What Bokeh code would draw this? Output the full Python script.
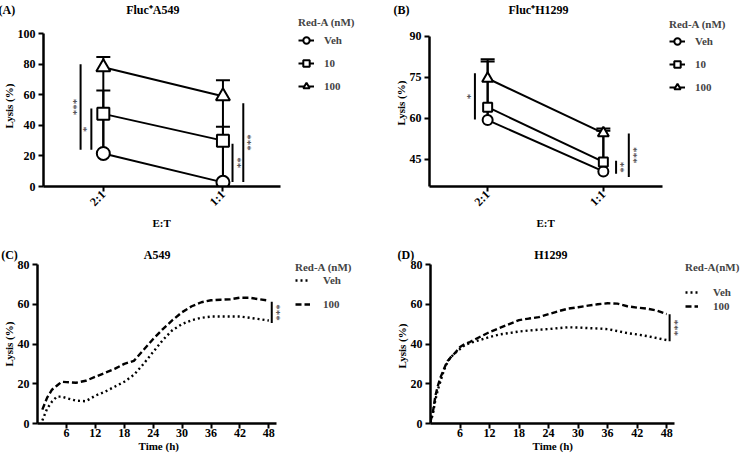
import math
from bokeh.plotting import figure
from bokeh.models import (Range1d, FixedTicker, Legend, LegendItem, Whisker, TeeHead,
                          ColumnDataSource, Title)
from bokeh.layouts import column, row
from bokeh.embed import file_html
from bokeh.resources import INLINE
from bokeh.core.properties import value

# ---------------- data ----------------
et_labels = ["2:1", "1:1"]
et_pos = [1, 2]
series_names = ["Veh", "10", "100"]

a_veh = [21.6, 2.7]
a_10 = [47.5, 30.0]
a_100 = [78.0, 59.0]
a_err_10 = [15.3, 9.1]
a_err_100 = [6.7, 10.5]

b_veh = [59.3, 40.5]
b_10 = [64.0, 44.0]
b_100 = [74.5, 54.5]
b_err_10 = [16.7, 11.4]
b_err_100 = [7.0, 1.7]

a_sig_x = [0.81, 0.90, 2.08, 2.17]
a_sig_lo = [24.0, 24.0, 3.0, 3.0]
a_sig_hi = [80.0, 51.0, 28.0, 54.5]
a_sig_txt = ["***", "*", "**", "***"]
a_sig_side = [-1, -1, 1, 1]

b_sig_x = [0.89, 2.11, 2.22]
b_sig_lo = [59.5, 39.7, 38.5]
b_sig_hi = [76.4, 44.4, 54.4]
b_sig_txt = ["*", "**", "***"]
b_sig_side = [-1, 1, 1]

c_time = [1, 2, 3, 4, 5, 6, 8, 10, 12, 14, 16, 18, 20, 22, 24, 26, 28, 30, 32, 34, 36, 38, 40, 42, 44, 46, 48]
c_veh = [1.5, 7.5, 11.0, 13.5, 13.5, 12.8, 11.5, 11.2, 14.0, 16.0, 18.5, 21.0, 24.5, 30.0, 36.0, 42.0,
         47.0, 50.0, 52.0, 53.2, 53.8, 53.8, 53.8, 53.8, 53.2, 52.5, 51.8]
c_100 = [7.0, 13.0, 17.0, 19.0, 21.0, 20.8, 20.5, 21.5, 23.5, 25.5, 27.5, 30.0, 31.5, 37.0, 42.5, 47.5,
         52.0, 56.0, 59.0, 61.0, 62.0, 62.3, 62.5, 63.3, 63.3, 62.5, 61.8]
c_sig_x = [48.6]
c_sig_lo = [50.6]
c_sig_hi = [61.2]
c_sig_txt = ["***"]
c_sig_side = [1]

d_time = [0, 0.5, 1, 1.5, 2, 2.5, 3, 3.5, 4, 5, 6, 7, 8, 10, 12, 14, 16, 18, 20, 22, 24, 26, 28, 30,
          32, 34, 36, 38, 40, 42, 44, 46, 48]
d_veh = [0.5, 5.0, 12.0, 17.0, 21.0, 25.0, 28.5, 31.0, 33.0, 35.5, 37.5, 39.5, 40.5, 42.0, 43.5, 44.8,
         45.5, 46.3, 46.8, 47.2, 47.5, 48.0, 48.4, 48.3, 48.0, 47.8, 47.5, 46.5, 45.5, 44.8, 44.0, 43.0, 42.0]
d_100 = [1.0, 6.0, 14.0, 19.0, 23.0, 26.0, 29.0, 31.5, 33.0, 35.5, 38.5, 40.0, 41.0, 43.5, 46.0, 48.0,
         50.0, 52.0, 52.8, 53.5, 55.0, 56.5, 57.8, 58.5, 59.3, 60.0, 60.5, 60.3, 59.0, 58.3, 57.8, 56.8, 55.0]
d_sig_x = [48.6]
d_sig_lo = [41.4]
d_sig_hi = [55.0]
d_sig_txt = ["***"]
d_sig_side = [1]

time_ticks = [6, 12, 18, 24, 30, 36, 42, 48]

# ---------------- styling helpers ----------------
SERIF = "Liberation Serif"
NB = "\u00a0"


def text_title(text, align, offset, standoff, size="11px", valign="bottom"):
    return Title(text=text, align=align, offset=offset, standoff=standoff,
                 vertical_align=valign, text_font=SERIF, text_font_style="bold",
                 text_font_size=size, text_color="black")


def base_fig(w, h, xr, yr, bl, bb, bt, xb, yb):
    p = figure(width=w, height=h, x_range=Range1d(*xr), y_range=Range1d(*yr),
               output_backend="svg", toolbar_location=None, title=None,
               min_border_left=bl, min_border_right=0, min_border_top=bt, min_border_bottom=bb)
    p.outline_line_color = None
    p.grid.visible = False
    p.border_fill_color = "white"
    p.background_fill_color = "white"
    for ax in (p.xaxis[0], p.yaxis[0]):
        ax.axis_line_width = 2.5
        ax.axis_line_color = "black"
        ax.major_tick_line_width = 2
        ax.major_tick_line_color = "black"
        ax.major_tick_out = 5
        ax.major_tick_in = 0
        ax.minor_tick_line_color = None
        ax.major_label_text_font = SERIF
        ax.major_label_text_font_style = "bold"
        ax.major_label_text_font_size = "12px"
        ax.major_label_text_color = "black"
        ax.major_label_standoff = 3
    p.xaxis[0].bounds = xb
    p.yaxis[0].bounds = yb
    return p


def add_texts(p, letter, title, gap, t_align, t_off, t_stand, ylab_off, xlab, xlab_off):
    p.add_layout(text_title(letter + NB * gap + title, t_align, t_off, t_stand, size="12px"), "above")
    p.add_layout(text_title("Lysis (%)", "left", ylab_off, 0), "left")
    p.add_layout(text_title(xlab, "left", xlab_off, 0, valign="top"), "below")


def add_sig(p, xs, lo, hi, txt, side):
    p.segment(x0=xs, y0=lo, x1=xs, y1=hi, line_color="black", line_width=2)
    mids = [(a + b) / 2 for a, b in zip(lo, hi)]
    angles = [-s * math.pi / 2 for s in side]
    offs = [s * 5 for s in side]
    p.text(x=xs, y=mids, text=txt, angle=angles, x_offset=offs,
           text_font=value(SERIF), text_font_size="11px", text_color="#333333",
           text_align="center", text_baseline="middle")


def make_legend(items, title, loc, glyph_w, glyph_h, spacing, standoff, title_standoff):
    lg = Legend(items=items, title=title, location=loc)
    lg.title_text_font = SERIF
    lg.title_text_font_style = "bold"
    lg.title_text_font_size = "11px"
    lg.label_text_font = SERIF
    lg.label_text_font_style = "bold"
    lg.label_text_font_size = "11px"
    lg.glyph_width = glyph_w
    lg.glyph_height = glyph_h
    lg.label_height = glyph_h
    lg.spacing = spacing
    lg.label_standoff = standoff
    lg.title_standoff = title_standoff
    lg.margin = 0
    lg.padding = 0
    lg.border_line_alpha = 0
    lg.background_fill_alpha = 0
    return lg


def ratio_panel(w, h, xr, yr, bl, bb, bt, xb, yb, yticks, vals, errs, msize, sig,
                letter, title, gap, t_align, t_off, ylab_off, xlab_off, leg_loc, leg_cfg):
    p = base_fig(w, h, xr, yr, bl, bb, bt, xb, yb)
    p.xaxis[0].ticker = FixedTicker(ticks=et_pos)
    p.xaxis[0].major_label_overrides = {pos: lab for pos, lab in zip(et_pos, et_labels)}
    p.xaxis[0].major_label_orientation = math.pi / 4
    p.xaxis[0].major_label_standoff = 1
    p.yaxis[0].ticker = FixedTicker(ticks=yticks)

    veh = vals[0]
    for v, e in zip(vals[1:], errs):
        src = ColumnDataSource(dict(x=et_pos, lower=veh, upper=[a + b for a, b in zip(v, e)]))
        p.add_layout(Whisker(source=src, base="x", lower="lower", upper="upper",
                             dimension="height", line_color="black", line_width=2,
                             upper_head=TeeHead(size=14, line_color="black", line_width=2),
                             lower_head=None, level="underlay"))

    markers = ["circle", "square", "triangle"]
    sizes = [msize, msize - 1, msize + 1]
    items = []
    for name, v, m, s in zip(series_names, vals, markers, sizes):
        ln = p.line(et_pos, v, line_color="black", line_width=2)
        sc = p.scatter(et_pos, v, marker=m, size=s, fill_color="white", line_color="black",
                       line_width=2)
        items.append(LegendItem(label=name, renderers=[ln, sc]))
    p.add_layout(make_legend(items, "Red-A (nM)", leg_loc, **leg_cfg))

    add_sig(p, *sig)
    add_texts(p, letter, title, gap, t_align, t_off, 0, ylab_off, "E:T", xlab_off)
    return p


def time_panel(w, h, xr, yr, bl, bb, bt, t, veh, r100, sig, letter, title, gap, t_off,
               ylab_off, xlab_off, legend_title, leg_loc, leg_cfg):
    p = base_fig(w, h, xr, yr, bl, bb, bt, (0, 49.5), (0, 80))
    p.xaxis[0].ticker = FixedTicker(ticks=time_ticks)
    p.xaxis[0].major_label_standoff = 0
    p.yaxis[0].ticker = FixedTicker(ticks=[0, 20, 40, 60, 80])
    l1 = p.line(t, veh, line_color="black", line_width=2.4, line_dash="2 3")
    l2 = p.line(t, r100, line_color="black", line_width=2.4, line_dash="6 3")
    items = [LegendItem(label="Veh", renderers=[l1]), LegendItem(label="100", renderers=[l2])]
    p.add_layout(make_legend(items, legend_title, leg_loc, **leg_cfg))
    add_sig(p, *sig)
    add_texts(p, letter, title, gap, "right", t_off, 2, ylab_off, "Time (h)", xlab_off)
    return p


# Panel A: page x 0..370, y 0..230; frame x 42..370, y 14..190
pA = ratio_panel(370, 230, (0.5, 0.5 + 328 / 120), (0, 176 / 1.583), 42, 40, 14,
                 (0.5, 2.48), (0, 100), [0, 20, 40, 60, 80, 100],
                 [a_veh, a_10, a_100], [a_err_10, a_err_100], 13,
                 (a_sig_x, a_sig_lo, a_sig_hi, a_sig_txt, a_sig_side),
                 "(A)", "Fluc\u207aA549", 37, "right", 191, 58, 109, (255, 92),
                 dict(glyph_w=16, glyph_h=16, spacing=7, standoff=10, title_standoff=4))

# Panel B: page x 370..744; frame x 429..744, y 14..190
pB = ratio_panel(374, 230, (0.4974, 0.4974 + 315 / 115.7), (35, 35 + 176 / 2.831), 59, 40, 14,
                 (0.5, 2.515), (35, 90), [45, 60, 75, 90],
                 [b_veh, b_10, b_100], [b_err_10, b_err_100], 10,
                 (b_sig_x, b_sig_lo, b_sig_hi, b_sig_txt, b_sig_side),
                 "(B)", "Fluc\u207aH1299", 33, "left", -36, 61, 107, (240, 91),
                 dict(glyph_w=16, glyph_h=16, spacing=7, standoff=10, title_standoff=3))

# Panel C: page x 0..370, y 230..455; frame x 37..370, y 262..423
pC = time_panel(370, 225, (0, 333 / 4.82), (0, 161 / 1.9875), 37, 32, 32,
                c_time, c_veh, c_100, (c_sig_x, c_sig_lo, c_sig_hi, c_sig_txt, c_sig_side),
                "(C)", "A549", 42, 200, 57, 101, "Red-A (nM)", (258, 112),
                dict(glyph_w=15, glyph_h=14, spacing=10, standoff=13, title_standoff=0))

# Panel D: page x 370..744; frame x 430..744, y 262..423
pD = time_panel(374, 225, (0, 314 / 4.92), (0, 161 / 1.9875), 60, 32, 32,
                d_time, d_veh, d_100, (d_sig_x, d_sig_lo, d_sig_hi, d_sig_txt, d_sig_side),
                "(D)", "H1299", 40, 177, 55, 102, "Red-A(nM)", (255, 110),
                dict(glyph_w=13, glyph_h=14, spacing=0, standoff=15, title_standoff=12))

layout = column(row(pA, pB), row(pC, pD))
open("out.html", "w").write(file_html(layout, INLINE))
